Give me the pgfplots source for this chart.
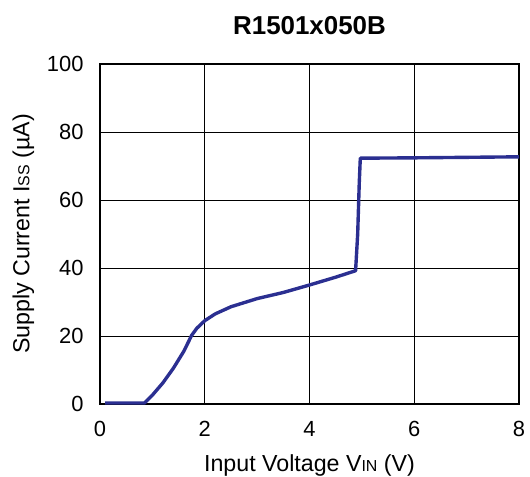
\documentclass[border=0pt]{standalone}
\usepackage{pgfplots}
\pgfplotsset{compat=1.18}
\usepackage{fontspec}
\setmainfont{Liberation Sans}
\definecolor{curve}{RGB}{43,47,145}
\begin{document}
\begin{tikzpicture}
\useasboundingbox (-100bp,-73bp) rectangle (430bp,404bp);
\begin{axis}[
  at={(0,0)}, anchor=south west,
  scale only axis, width=419bp, height=340bp,
  xmin=0, xmax=8, ymin=0, ymax=100,
  xtick={0,2,4,6,8}, ytick={0,20,40,60,80,100},
  grid=major,
  major grid style={black, line width=0.9pt},
  axis line style={black, line width=1.1pt},
  major tick length=0pt,
  tick label style={font=\fontsize{22}{24}\selectfont},
  /pgf/number format/assume math mode=true,
  xticklabel style={yshift=-14bp},
  yticklabel style={xshift=-13bp},
  title={\textbf{R1501x050B}},
  title style={font=\fontsize{26}{28}\selectfont, yshift=20bp},
  xlabel={Input Voltage V{\fontsize{16}{17}\selectfont IN} (V)},
  ylabel={Supply Current I{\fontsize{16}{17}\selectfont SS} (\textmu A)},
  label style={font=\fontsize{23.3}{25}\selectfont},
  xlabel style={yshift=-11bp},
  ylabel style={yshift=6bp},
]
\addplot[curve, line width=3.4pt, line join=round] coordinates {
(0.1,0.3)(0.85,0.3)(1.0,2.6)(1.2,6.2)(1.4,10.5)(1.6,15.5)(1.75,20.2)(1.85,22.3)(2.0,24.5)(2.2,26.5)(2.5,28.6)(3.0,31.0)(3.5,32.8)(4.0,35.0)(4.5,37.3)(4.88,39.2)(4.92,50)(4.95,65)(4.97,72.3)(6,72.4)(8,72.7)
};
\end{axis}
\end{tikzpicture}
\end{document}
